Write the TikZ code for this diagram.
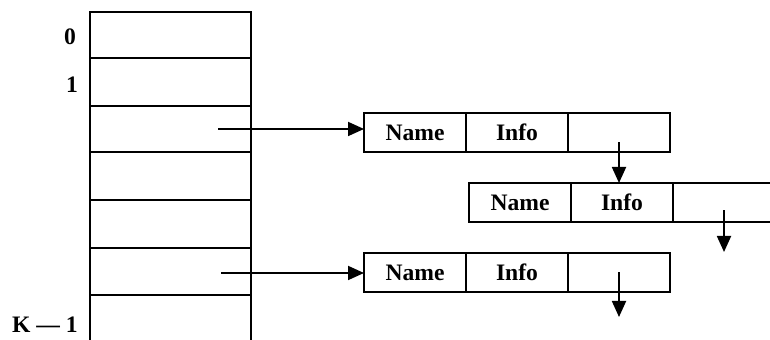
\documentclass[tikz,border=0pt]{standalone}
\usepackage{fontspec}
\setmainfont{Liberation Serif}
\usepackage{tikz}
\usetikzlibrary{arrows.meta,positioning}

\tikzset{
  celda/.style={draw, line width=1.1pt, minimum width=51pt, minimum height=19.5pt, inner sep=0pt, outer sep=0pt},
  ptr/.style={line width=0.9pt, -{Triangle[length=8pt,width=7pt]}},
}

\begin{document}
\begin{tikzpicture}[x=0.5pt, y=-0.5pt, font=\fontsize{11.8}{13}\selectfont\bfseries]
  \useasboundingbox (0,0) rectangle (770,340);

  % Tabla de dispersion
  \draw[line width=1.4pt] (90,340) -- (90,12) -- (251,12) -- (251,340);
  \foreach \y in {58,106,152,200,248,295}
    \draw[line width=1.4pt] (90,\y) -- (251,\y);

  % Indices
  \node (i0) at (70,37) {0};
  \node (i1) at (72,85) {1};
  \node (ik) at (45,325) {K — 1};

  % Inicio de los punteros
  \coordinate (r2) at (218,129);
  \coordinate (r5) at (221,273);

  % Primer registro
  \node[celda] (n1) at (415,132.5) {Name};
  \node[celda, right=0pt of n1] (f1) {Info};
  \node[celda, right=0pt of f1] (p1) {};

  % Segundo registro (sigue a la derecha)
  \node[celda] (n2) at (520,202.5) {Name};
  \node[celda, right=0pt of n2] (f2) {Info};
  \node[celda, draw=none, right=0pt of f2] (p2) {};
  \draw[line width=1.1pt] (p2.north west) -- ++(120,0);
  \draw[line width=1.1pt] (p2.south west) -- ++(120,0);

  % Tercer registro
  \node[celda] (n3) at (415,272.5) {Name};
  \node[celda, right=0pt of n3] (f3) {Info};
  \node[celda, right=0pt of f3] (p3) {};

  % Extremos libres
  \coordinate (e2) at (724,252);
  \coordinate (e3) at (618,317);

  % Punteros
  \draw[ptr] (r2) -- (r2 -| n1.west);
  \draw[ptr] (r5) -- (r5 -| n3.west);
  \draw[ptr] ([yshift=-5pt]p1.center) -- (p1.center |- f2.north);
  \draw[ptr] ([yshift=-4pt]p2.center) -- (p2.center |- e2);
  \draw[ptr] (p3.center) -- (p3.center |- e3);
\end{tikzpicture}
\end{document}
